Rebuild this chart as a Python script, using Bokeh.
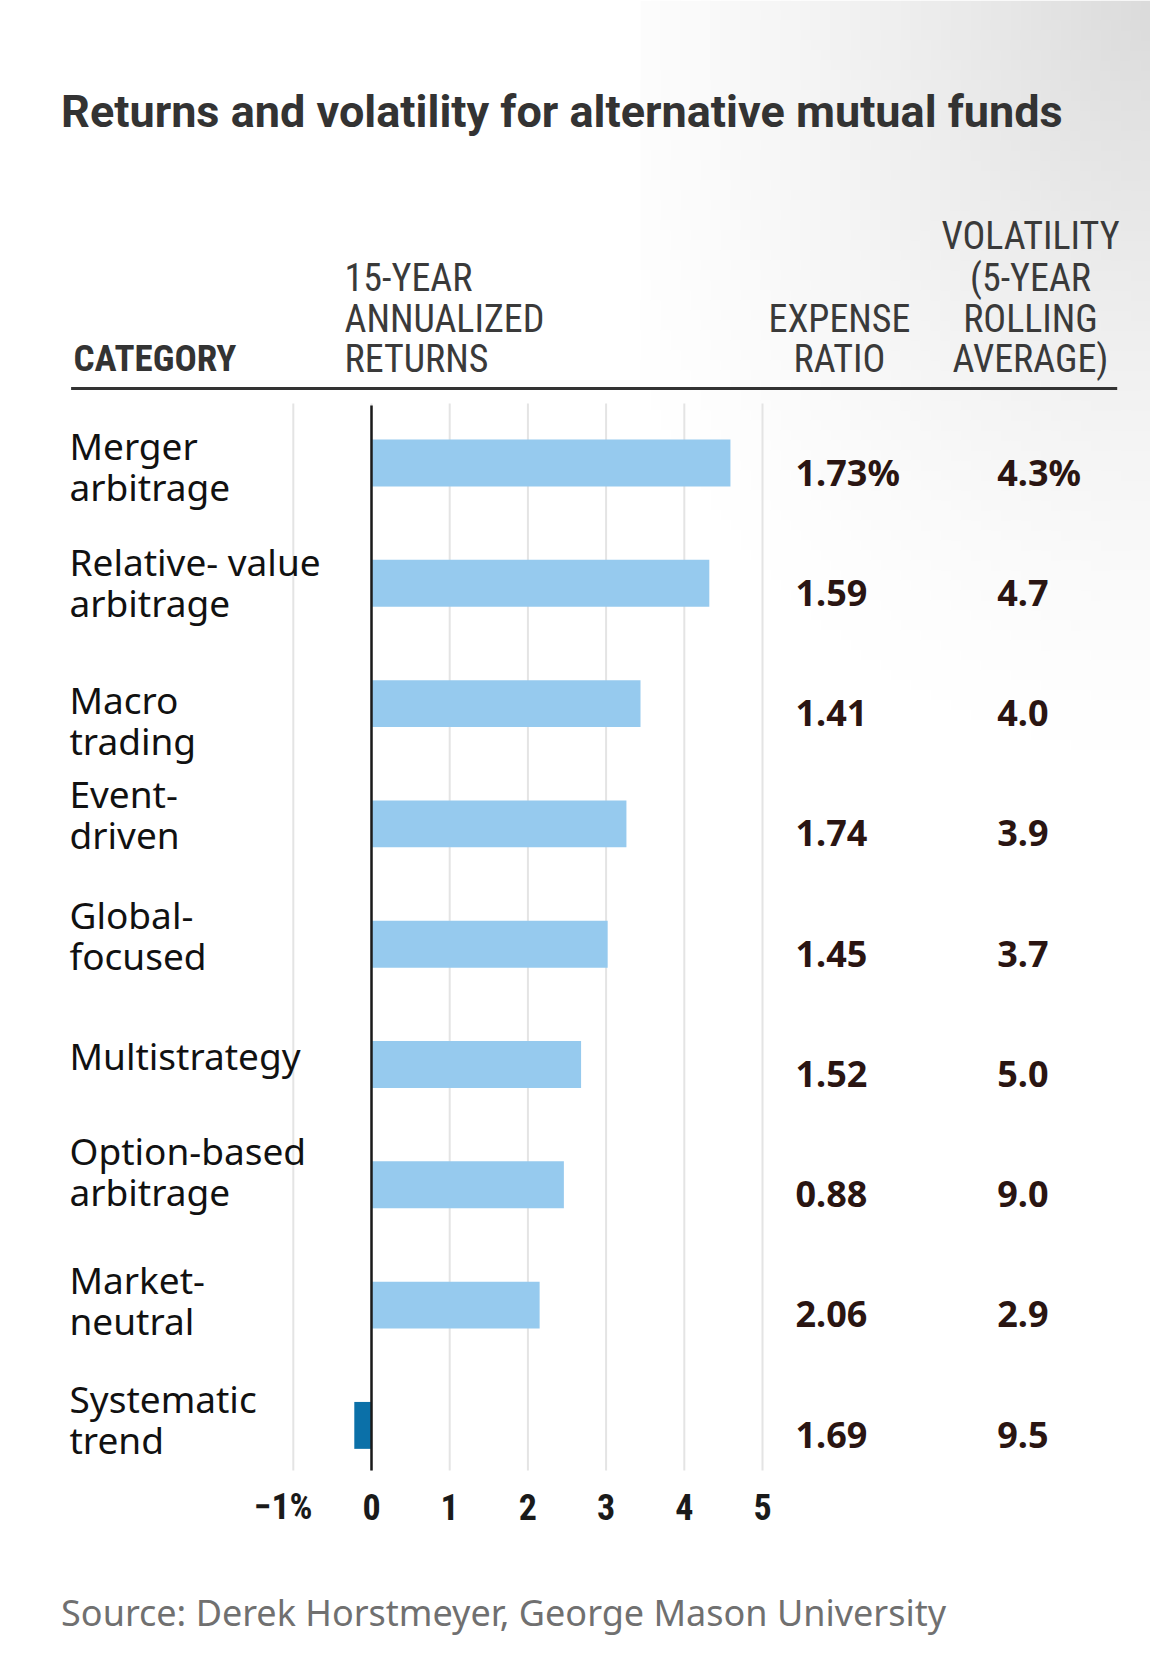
import numpy as np
from bokeh.plotting import figure
from bokeh.models import Range1d
from bokeh.core.properties import value
from bokeh.embed import file_html
from bokeh.resources import INLINE

# ---------------- data ----------------
categories = ["Merger arbitrage", "Relative- value arbitrage", "Macro trading",
              "Event-driven", "Global-focused", "Multistrategy",
              "Option-based arbitrage", "Market-neutral", "Systematic trend"]
label_line1 = ["Merger", "Relative- value", "Macro", "Event-", "Global-",
               "Multistrategy", "Option-based", "Market-", "Systematic"]
label_line2 = ["arbitrage", "arbitrage", "trading", "driven", "focused",
               "", "arbitrage", "neutral", "trend"]
returns_15y = [4.59, 4.32, 3.44, 3.26, 3.02, 2.68, 2.46, 2.15, -0.22]
expense_ratio = ["1.73%", "1.59", "1.41", "1.74", "1.45", "1.52", "0.88", "2.06", "1.69"]
volatility = ["4.3%", "4.7", "4.0", "3.9", "3.7", "5.0", "9.0", "2.9", "9.5"]
tick_values = [-1, 0, 1, 2, 3, 4, 5]
tick_labels = ["\u22121%", "0", "1", "2", "3", "4", "5"]

title_text = "Returns and volatility for alternative mutual funds"
source_text = "Source: Derek Horstmeyer, George Mason University"

# ---------------- layout (pixels) ----------------
W, H = 1150, 1650
X0, UX = 371.0, 78.2        # pixel of zero return, pixels per 1 %
R0, RS = 462.5, 120.3       # pixel of first row centre, row spacing
BASE = 0.38                 # baseline correction (fraction of font size)

def dx(px):
    return (px - X0) / UX

def dy(py):
    return (py - R0) / RS

def ty(py, fs):
    return dy(py - BASE * fs)

p = figure(width=W, height=H,
           x_range=Range1d(dx(0), dx(W)), y_range=Range1d(dy(H), dy(0)),
           output_backend="svg", toolbar_location=None,
           x_axis_location=None, y_axis_location=None,
           min_border=0, tools="")
p.grid.visible = False
p.outline_line_color = None
p.background_fill_color = "white"
p.border_fill_color = "white"

# soft grey shading in the top-right corner
gx0, gx1, gy0, gy1 = 640.0, float(W), 0.0, 780.0
ny, nx = 78, 51
img = np.zeros((ny, nx), dtype=np.uint32)
view = img.view(dtype=np.uint8).reshape((ny, nx, 4))
for j in range(ny):
    for i in range(nx):
        px = gx0 + (gx1 - gx0) * i / (nx - 1)
        py = gy0 + (gy1 - gy0) * j / (ny - 1)
        d = np.hypot((W + 10 - px) * 0.9, py * 0.72)
        t = max(0.0, 1.0 - d / 580.0)
        view[j, i, 0] = 185
        view[j, i, 1] = 185
        view[j, i, 2] = 185
        view[j, i, 3] = int(135 * t ** 1.5)
p.image_rgba(image=[img], x=dx(gx0), y=dy(gy0), dw=dx(gx1) - dx(gx0),
             dh=dy(gy1) - dy(gy0))

# title
p.text(x=[dx(60.6)], y=[ty(128.5, 45)], text=[title_text],
       text_font=value("Roboto"), text_font_style="bold",
       text_font_size="45px", text_color="#333333",
       text_align="left", text_baseline="alphabetic")

# header
hfont = value("Roboto Condensed")
HS = 38
p.text(x=[dx(73)], y=[ty(372, 37)], text=["CATEGORY"], text_font=hfont,
       text_font_style="bold", text_font_size="37px", text_color="#333333",
       text_align="left", text_baseline="alphabetic")
p.text(x=[dx(344)] * 3, y=[ty(291.7, HS), ty(333, HS), ty(373, HS)],
       text=["15-YEAR", "ANNUALIZED", "RETURNS"], text_font=hfont,
       text_font_size=f"{HS}px", text_color="#3a3a3a",
       text_align="left", text_baseline="alphabetic")
p.text(x=[dx(839)] * 2, y=[ty(333, HS), ty(373, HS)],
       text=["EXPENSE", "RATIO"], text_font=hfont,
       text_font_size=f"{HS}px", text_color="#3a3a3a",
       text_align="center", text_baseline="alphabetic")
p.text(x=[dx(1030)] * 4, y=[ty(250, HS), ty(291.7, HS), ty(333, HS), ty(373, HS)],
       text=["VOLATILITY", "(5-YEAR", "ROLLING", "AVERAGE)"], text_font=hfont,
       text_font_size=f"{HS}px", text_color="#3a3a3a",
       text_align="center", text_baseline="alphabetic")
p.segment(x0=[dx(70.6)], y0=[dy(388)], x1=[dx(1116.7)], y1=[dy(388)],
          line_color="#333333", line_width=3)

# grid lines
rows = list(range(len(categories)))
g_top, g_bot = dy(403), dy(1470)
p.segment(x0=tick_values, y0=[g_top] * len(tick_values),
          x1=tick_values, y1=[g_bot] * len(tick_values),
          line_color="#e4e4e4", line_width=2)

# bars
bar_colors = ["#96caee" if v >= 0 else "#0b70a8" for v in returns_15y]
p.hbar(y=rows, left=0, right=returns_15y, height=0.39,
       fill_color=bar_colors, line_color=None)

# zero line
p.segment(x0=[0], y0=[dy(405)], x1=[0], y1=[g_bot],
          line_color="#1a1a1a", line_width=2.5)

# category labels
LS = 37
lab_dy = [-3.5, -7.8, 9.7, -16, -16, 4.7, -20, -11.6, -13]
y1 = [r + (d - BASE * LS) / RS for r, d in zip(rows, lab_dy)]
y2 = [v + 41 / RS for v in y1]
p.text(x=[dx(69)] * len(rows), y=y1, text=label_line1,
       text_font=value("Noto Sans"), text_font_size=f"{LS}px",
       text_color="#111111", text_align="left", text_baseline="alphabetic")
p.text(x=[dx(69)] * len(rows), y=y2, text=label_line2,
       text_font=value("Noto Sans"), text_font_size=f"{LS}px",
       text_color="#111111", text_align="left", text_baseline="alphabetic")

# value columns
VS = 36
vy = [r + (23 - BASE * VS) / RS for r in rows]
p.text(x=[dx(795)] * len(rows), y=vy, text=expense_ratio,
       text_font=value("Noto Sans"), text_font_style="bold",
       text_font_size=f"{VS}px", text_color="#2a1512",
       text_align="left", text_baseline="alphabetic")
p.text(x=[dx(996.7)] * len(rows), y=vy, text=volatility,
       text_font=value("Noto Sans"), text_font_style="bold",
       text_font_size=f"{VS}px", text_color="#2a1512",
       text_align="left", text_baseline="alphabetic")

# tick labels
tick_shift = [-10 if t < 0 else 0 for t in tick_values]
p.text(x=tick_values, y=[ty(1520, 36)] * len(tick_values), text=tick_labels,
       x_offset=tick_shift,
       text_font=value("Roboto Condensed"), text_font_style="bold",
       text_font_size="36px", text_color="#1a1a1a",
       text_align="center", text_baseline="alphabetic")

# source
p.text(x=[dx(60.6)], y=[ty(1626, 36)], text=[source_text],
       text_font=value("Noto Sans"), text_font_size="36px",
       text_color="#707070", text_align="left", text_baseline="alphabetic")

open("out.html", "w").write(file_html(p, INLINE))
